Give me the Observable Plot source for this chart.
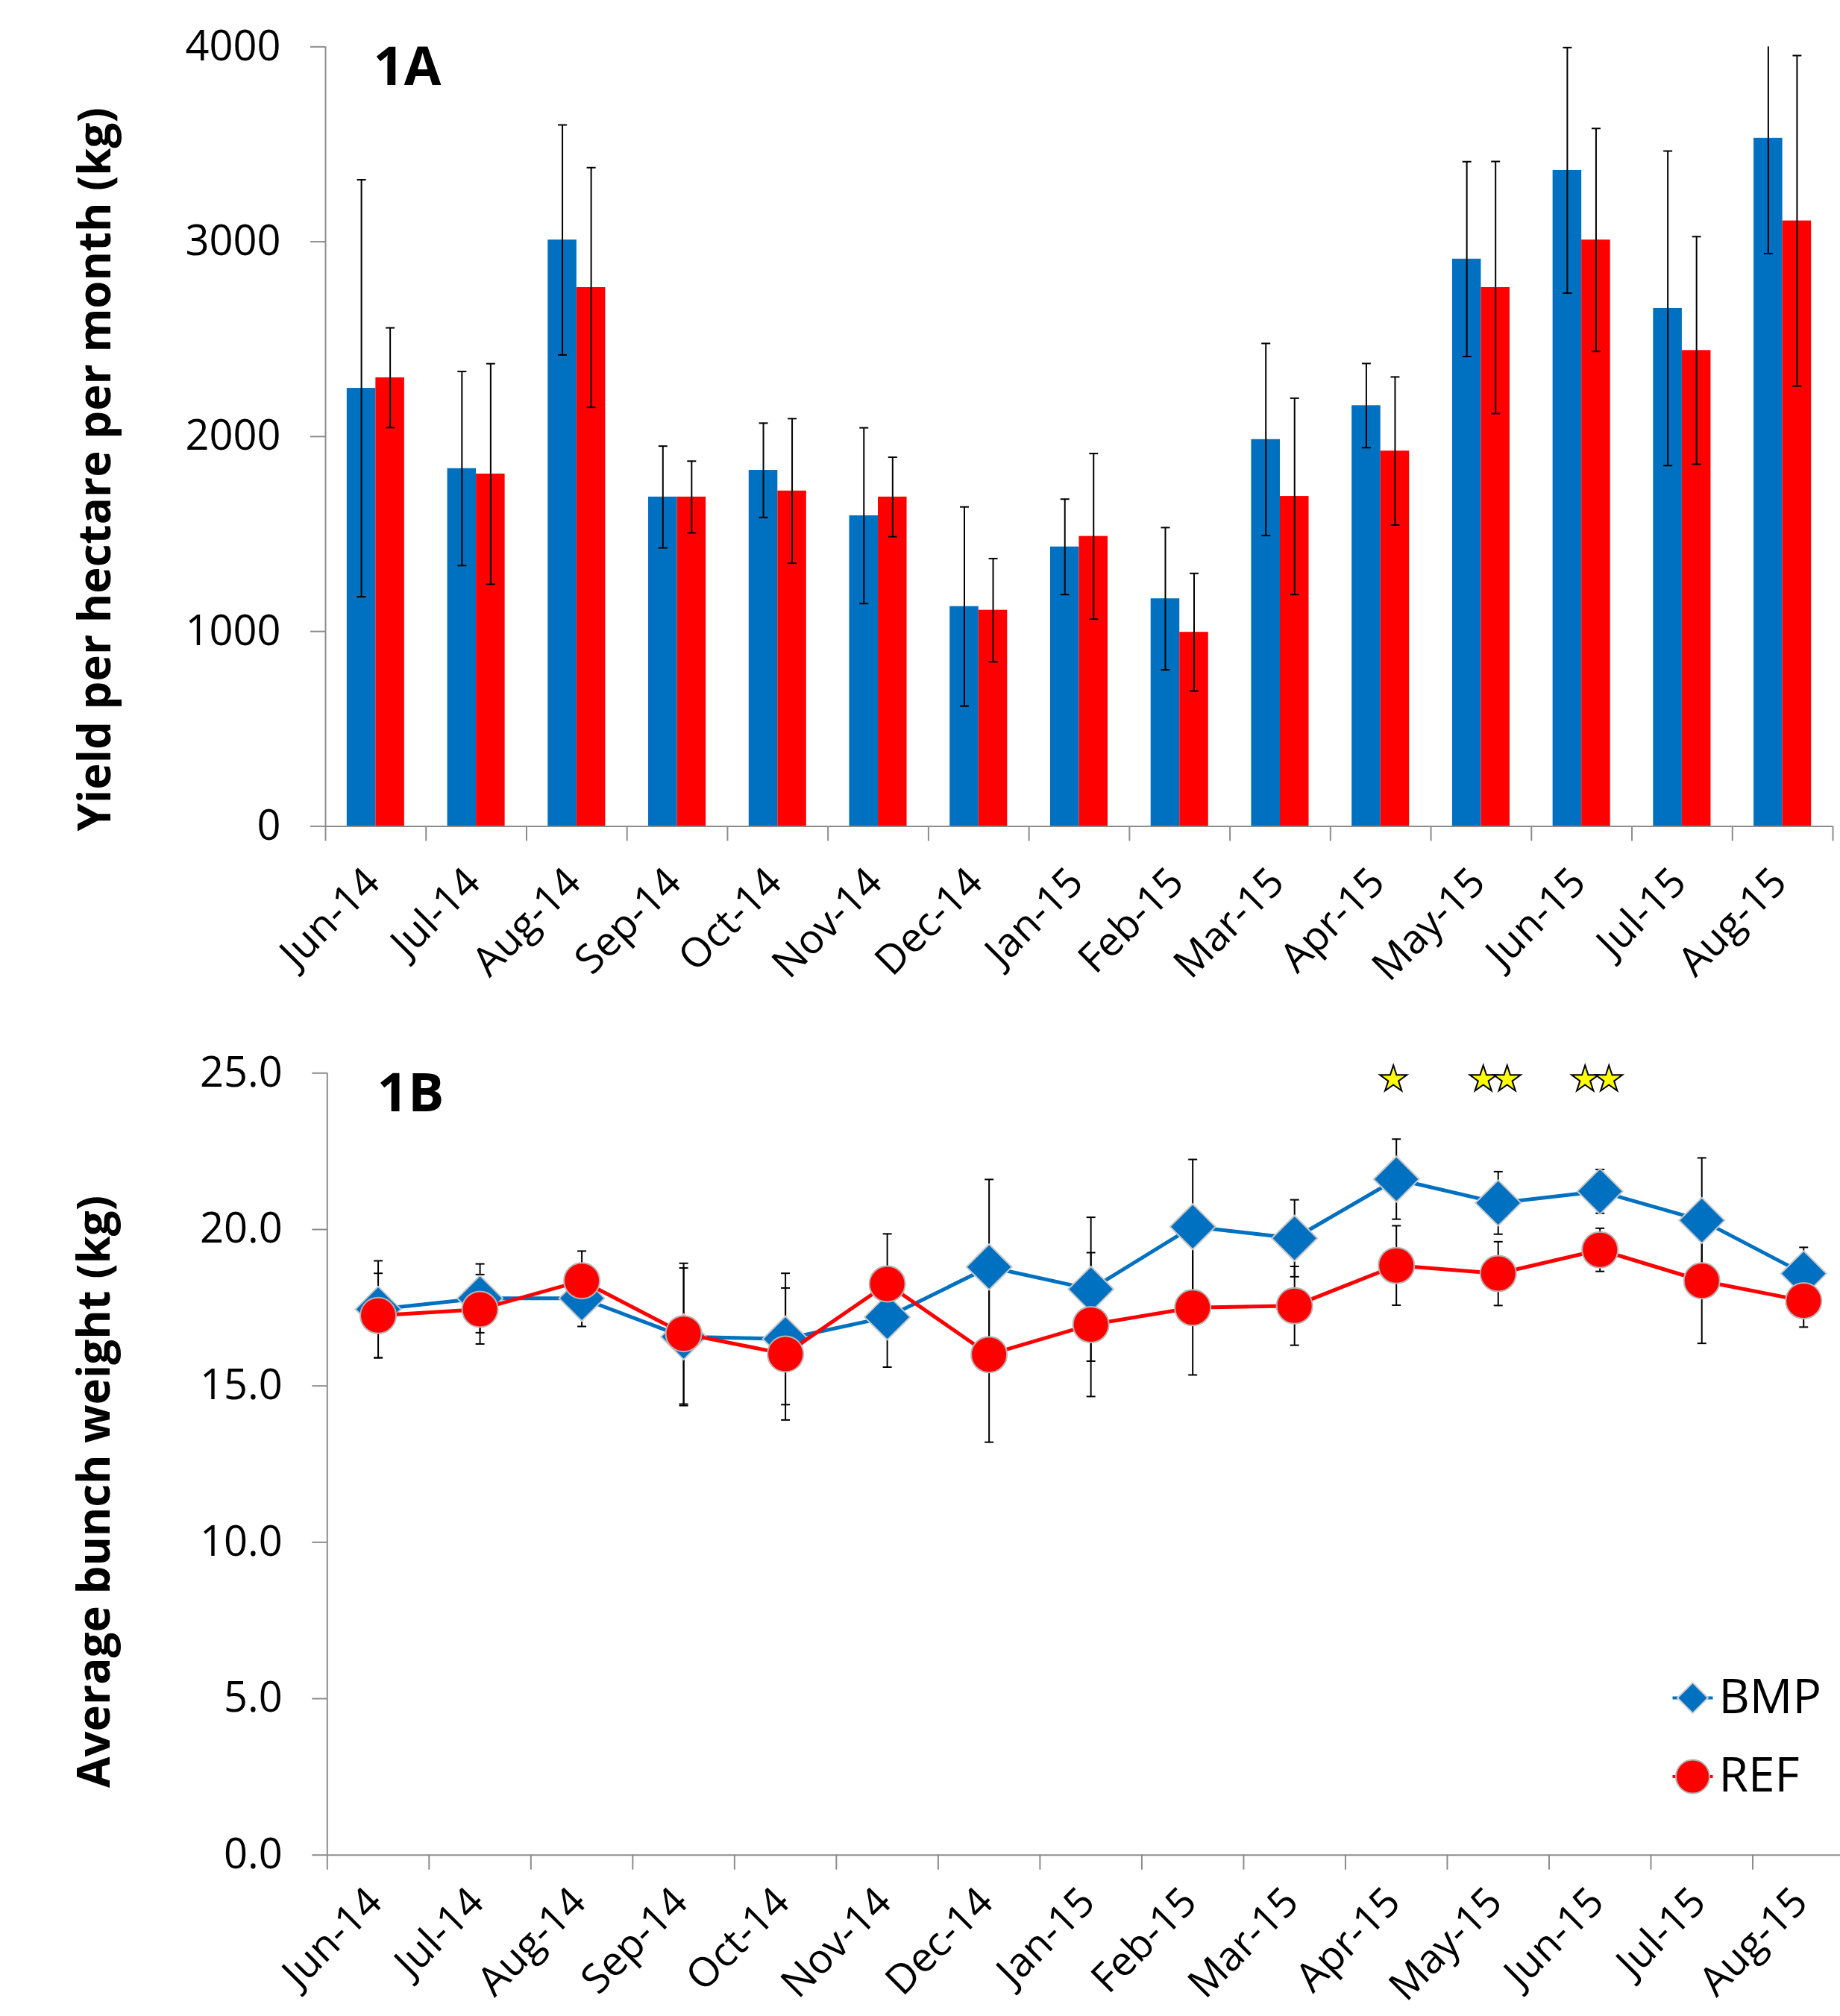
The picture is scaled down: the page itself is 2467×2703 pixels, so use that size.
<!DOCTYPE html>
<html>
<head>
<meta charset="utf-8">
<script src="https://cdn.jsdelivr.net/npm/d3@7"></script>
<script src="https://cdn.jsdelivr.net/npm/@observablehq/plot@0.6"></script>
<style>
  html, body { margin: 0; padding: 0; background: #fff; }
  #wrap { position: relative; width: 2467px; height: 2703px; overflow: hidden; font-family: "Open Sans", sans-serif; }
  #wrap svg { position: absolute; left: 0; }
</style>
</head>
<body>
<div id="wrap"></div>
<script>
// ---------- data ----------
const months = ["Jun-14","Jul-14","Aug-14","Sep-14","Oct-14","Nov-14","Dec-14","Jan-15","Feb-15","Mar-15","Apr-15","May-15","Jun-15","Jul-15","Aug-15"];

// Panel 1A: yield per hectare per month (kg), mean and error
const bmpYield    = [2248, 1836, 3009, 1690, 1827, 1594, 1128, 1434, 1168, 1985, 2159, 2911, 3366, 2658, 3531];
const bmpYieldErr = [1070,  498,  590,  261,  242,  451,  511,  245,  365,  493,  216,  500,  630,  807,  592];
const refYield    = [2302, 1808, 2765, 1690, 1721, 1690, 1109, 1488,  996, 1693, 1926, 2765, 3009, 2442, 3107];
const refYieldErr = [ 256,  566,  615,  184,  371,  204,  265,  425,  302,  504,  380,  647,  572,  584,  848];
const yieldTicks  = [0, 1000, 2000, 3000, 4000];

// Panel 1B: average bunch weight (kg), mean and error
const bmpWeight    = [17.45, 17.8, 17.8, 16.57, 16.5, 17.2, 18.8, 18.09, 20.09, 19.72, 21.61, 20.85, 21.22, 20.29, 18.59];
const bmpWeightErr = [ 1.55,  1.1, 0.9,  2.2,   2.1,  1.6,  2.8,  2.3,   2.15,  1.23,  1.28,  1.0,   0.7,   2.0,   0.84];
const refWeight    = [17.25, 17.45, 18.36, 16.67, 16.02, 18.26, 16.0, 16.96, 17.5, 17.56, 18.85, 18.59, 19.35, 18.36, 17.72];
const refWeightErr = [ 1.35,  1.11,  0.95,  2.25,  2.11,  1.6,   2.8,  2.3,   2.15, 1.26,  1.27,  1.02,  0.69,  2.0,   0.84];
const weightTicks  = [0, 5, 10, 15, 20, 25];

// significance stars (count per month) and their level on the weight axis
const starMonths = ["Apr-15", "May-15", "Jun-15"];
const starCounts = [1, 2, 2];
const starLevel = 24.8;

const seriesNames = ["BMP", "REF"];

// ---------- styles ----------
const BLUE = "#0070C0", RED = "#FF0000", AXIS = "#8c8c8c";
const FONT = "Open Sans";
const W = 2467;

const tableA = months.map((m, i) => ({i, m, bmp: bmpYield[i], bmpE: bmpYieldErr[i], ref: refYield[i], refE: refYieldErr[i]}));
const tableB = months.map((m, i) => ({i, m, bmp: bmpWeight[i], bmpE: bmpWeightErr[i], ref: refWeight[i], refE: refWeightErr[i]}));
const starTable = [];
starMonths.forEach((m, k) => {
  const i = months.indexOf(m);
  for (let s = 0; s < starCounts[k]; s++) starTable.push({i, s, n: starCounts[k]});
});

const boundaries = d3.range(months.length + 1);
const centers = months.map((m, i) => i + 0.5);
const hLine = {draw(ctx, size) { const r = Math.sqrt(size / Math.PI); ctx.moveTo(-r, 0); ctx.lineTo(r, 0); }};

function errorMarks(table, key, errKey, xOff, capR) {
  return [
    Plot.ruleX(table, {x: d => d.i + 0.5 + xOff, y1: d => d[key] - d[errKey], y2: d => d[key] + d[errKey], stroke: "black", strokeWidth: 2, clip: true}),
    Plot.dot(table, {x: d => d.i + 0.5 + xOff, y: d => d[key] + d[errKey], symbol: hLine, r: capR, stroke: "black", strokeWidth: 2, fill: "none", clip: true}),
    Plot.dot(table, {x: d => d.i + 0.5 + xOff, y: d => d[key] - d[errKey], symbol: hLine, r: capR, stroke: "black", strokeWidth: 2, fill: "none", clip: true})
  ];
}

function axes(ticks, fmt, labelPad) {
  return [
    Plot.axisY({ticks, tickSize: 20, tickPadding: 40, tickFormat: fmt, stroke: AXIS, strokeWidth: 2, fill: "black", fontSize: 56, label: null}),
    Plot.ruleX([0], {stroke: AXIS, strokeWidth: 2}),
    Plot.ruleY([0], {stroke: AXIS, strokeWidth: 2}),
    Plot.axisX({ticks: boundaries, tickSize: 20, tickFormat: () => "", stroke: AXIS, strokeWidth: 2, label: null}),
    Plot.axisX({ticks: centers, tickSize: 0, tickPadding: labelPad, tickRotate: -45, dx: -4, tickFormat: d => months[d - 0.5], fill: "black", fontSize: 54.5, label: null})
  ];
}

// ---------- Panel 1A ----------
const bw = 0.286; // bar width in band units
const hA = 1340;
const plotA = Plot.plot({
  width: W, height: hA,
  marginLeft: 436, marginRight: 10, marginTop: 62.3, marginBottom: hA - 1107.4,
  style: {fontFamily: FONT, background: "transparent", overflow: "visible", maxWidth: "none"},
  x: {type: "linear", domain: [0, months.length], range: [436, 2457], axis: null},
  y: {domain: [0, 4000], axis: null},
  marks: [
    Plot.rectY(tableA, {x1: d => d.i + 0.5 - bw, x2: d => d.i + 0.5, y1: 0, y2: "bmp", fill: BLUE}),
    Plot.rectY(tableA, {x1: d => d.i + 0.5, x2: d => d.i + 0.5 + bw, y1: 0, y2: "ref", fill: RED}),
    ...errorMarks(tableA, "bmp", "bmpE", -bw / 2, 6),
    ...errorMarks(tableA, "ref", "refE", bw / 2, 6),
    ...axes(yieldTicks, d => String(d), 66),
    Plot.text(["1A"], {frameAnchor: "top-left", dx: 64, lineAnchor: "top", textAnchor: "start", fontSize: 72, fontWeight: "bold", fill: "black"}),
    Plot.text(["Yield per hectare per month (kg)"], {frameAnchor: "left", dx: 128 - 436, dy: 44, rotate: -90, textAnchor: "middle", lineAnchor: "middle", fontSize: 60, fontWeight: "bold", fill: "black"})
  ]
});
plotA.style.top = "0px";

// ---------- Panel 1B ----------
const topB = 1340, hB = 1363;
const plotB = Plot.plot({
  width: W, height: hB,
  marginLeft: 438.3, marginRight: 0, marginTop: 1438.3 - topB, marginBottom: hB - (2486.7 - topB),
  style: {fontFamily: FONT, background: "transparent", overflow: "visible", maxWidth: "none"},
  x: {type: "linear", domain: [0, months.length], range: [438.3, 2486], axis: null},
  y: {domain: [0, 25], axis: null},
  marks: [
    ...errorMarks(tableB, "bmp", "bmpE", 0, 6),
    ...errorMarks(tableB, "ref", "refE", 0, 6),
    ...axes(weightTicks, d3.format(".1f"), 54),
    Plot.line(tableB, {x: d => d.i + 0.5, y: "bmp", stroke: BLUE, strokeWidth: 5}),
    Plot.dot(tableB, {x: d => d.i + 0.5, y: "bmp", symbol: "diamond2", r: 27.5, fill: BLUE, stroke: "#c9c9c9", strokeWidth: 2}),
    Plot.line(tableB, {x: d => d.i + 0.5, y: "ref", stroke: RED, strokeWidth: 5}),
    Plot.dot(tableB, {x: d => d.i + 0.5, y: "ref", symbol: "circle", r: 24, fill: RED, stroke: "#b5b5b5", strokeWidth: 2}),
    // stars
    Plot.dot(starTable.filter(d => d.n === 1), {x: d => d.i + 0.5, y: () => starLevel, dx: -4, symbol: "star", r: 11.3, fill: "#FFFF00", stroke: "black", strokeWidth: 2}),
    Plot.dot(starTable.filter(d => d.n === 2 && d.s === 0), {x: d => d.i + 0.5, y: () => starLevel, dx: -20, symbol: "star", r: 11.3, fill: "#FFFF00", stroke: "black", strokeWidth: 2}),
    Plot.dot(starTable.filter(d => d.n === 2 && d.s === 1), {x: d => d.i + 0.5, y: () => starLevel, dx: 12, symbol: "star", r: 11.3, fill: "#FFFF00", stroke: "black", strokeWidth: 2}),
    Plot.text(["1B"], {frameAnchor: "top-left", dx: 67, lineAnchor: "top", textAnchor: "start", fontSize: 72, fontWeight: "bold", fill: "black"}),
    Plot.text(["Average bunch weight (kg)"], {frameAnchor: "left", dx: 127.5 - 438.3, dy: 37, rotate: -90, textAnchor: "middle", lineAnchor: "middle", fontSize: 60, fontWeight: "bold", fill: "black"}),
    // legend (inside plot, bottom-right)
    Plot.dot([seriesNames[0]], {frameAnchor: "bottom-right", dx: 2269 - W, dy: 2276 - 2486.7, symbol: hLine, r: 27, stroke: BLUE, strokeWidth: 4}),
    Plot.dot([seriesNames[0]], {frameAnchor: "bottom-right", dx: 2269 - W, dy: 2276 - 2486.7, symbol: "diamond2", r: 18.5, fill: BLUE, stroke: "#d0d0d0", strokeWidth: 2}),
    Plot.text([seriesNames[0]], {frameAnchor: "bottom-right", dx: 2304 - W, dy: 2276 - 2486.7, text: d => d, textAnchor: "start", lineAnchor: "middle", fontSize: 64, fill: "black"}),
    Plot.dot([seriesNames[1]], {frameAnchor: "bottom-right", dx: 2269 - W, dy: 2381.5 - 2486.7, symbol: hLine, r: 27, stroke: RED, strokeWidth: 4}),
    Plot.dot([seriesNames[1]], {frameAnchor: "bottom-right", dx: 2269 - W, dy: 2381.5 - 2486.7, symbol: "circle", r: 22.5, fill: RED, stroke: "#b5b5b5", strokeWidth: 2}),
    Plot.text([seriesNames[1]], {frameAnchor: "bottom-right", dx: 2304 - W, dy: 2381.5 - 2486.7, text: d => d, textAnchor: "start", lineAnchor: "middle", fontSize: 64, fill: "black"})
  ]
});
plotB.style.top = topB + "px";

const wrap = document.getElementById("wrap");
wrap.appendChild(plotA);
wrap.appendChild(plotB);
</script>
</body>
</html>
